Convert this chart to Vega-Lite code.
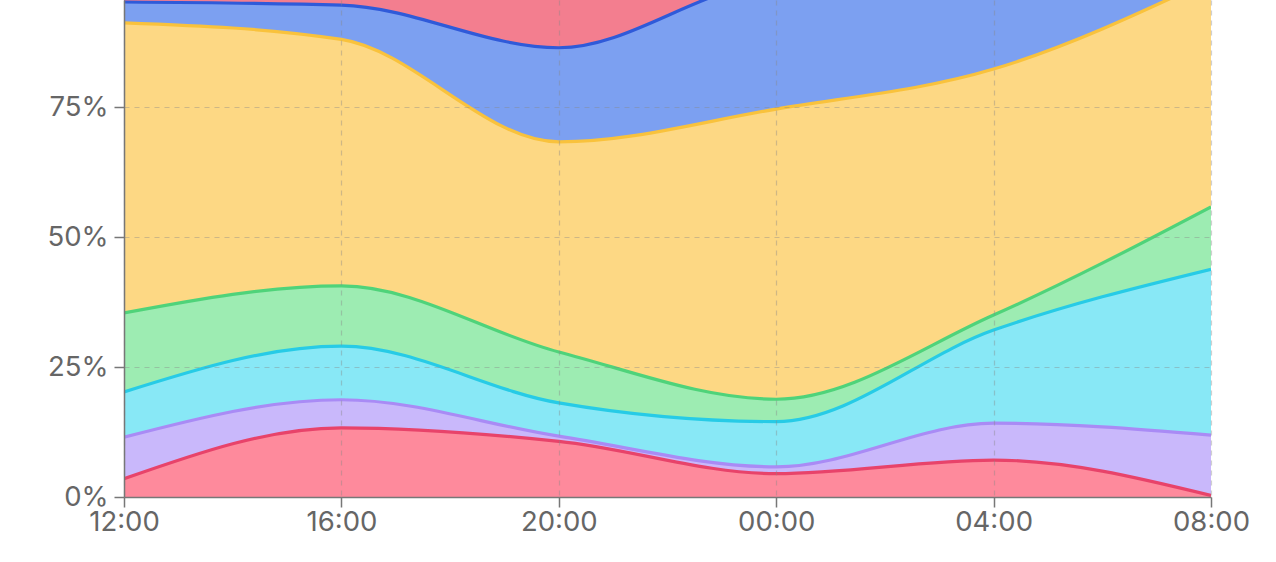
{
  "$schema": "https://vega.github.io/schema/vega-lite/v6.json",
  "width": 1087,
  "height": 497,
  "autosize": {"type": "none"},
  "padding": {"left": 124, "top": 0, "right": 65, "bottom": 65},
  "background": "white",
  "config": {
    "view": {"stroke": null},
    "font": "Inter",
    "axis": {
      "labelFont": "Inter",
      "labelFontSize": 27.5,
      "labelColor": "#666666",
      "tickColor": "#777777",
      "domainColor": "#777777",
      "domainWidth": 1.5,
      "tickWidth": 1.5,
      "gridColor": "#888888",
      "gridOpacity": 0.4,
      "gridDash": [5, 5],
      "gridWidth": 1.2
    }
  },
  "data": {
    "values": [
      {"t": "12:00", "s": "a", "v": 3.5},
      {"t": "16:00", "s": "a", "v": 13.3},
      {"t": "20:00", "s": "a", "v": 10.7},
      {"t": "00:00", "s": "a", "v": 4.5},
      {"t": "04:00", "s": "a", "v": 7.1},
      {"t": "08:00", "s": "a", "v": 0.3},
      {"t": "12:00", "s": "b", "v": 8.0},
      {"t": "16:00", "s": "b", "v": 5.4},
      {"t": "20:00", "s": "b", "v": 1.0},
      {"t": "00:00", "s": "b", "v": 1.3},
      {"t": "04:00", "s": "b", "v": 7.1},
      {"t": "08:00", "s": "b", "v": 11.6},
      {"t": "12:00", "s": "c", "v": 8.7},
      {"t": "16:00", "s": "c", "v": 10.3},
      {"t": "20:00", "s": "c", "v": 6.4},
      {"t": "00:00", "s": "c", "v": 8.7},
      {"t": "04:00", "s": "c", "v": 17.9},
      {"t": "08:00", "s": "c", "v": 31.9},
      {"t": "12:00", "s": "d", "v": 15.2},
      {"t": "16:00", "s": "d", "v": 11.6},
      {"t": "20:00", "s": "d", "v": 9.8},
      {"t": "00:00", "s": "d", "v": 4.3},
      {"t": "04:00", "s": "d", "v": 2.9},
      {"t": "08:00", "s": "d", "v": 12.0},
      {"t": "12:00", "s": "e", "v": 55.8},
      {"t": "16:00", "s": "e", "v": 47.4},
      {"t": "20:00", "s": "e", "v": 40.4},
      {"t": "00:00", "s": "e", "v": 55.8},
      {"t": "04:00", "s": "e", "v": 47.3},
      {"t": "08:00", "s": "e", "v": 43.7},
      {"t": "12:00", "s": "f", "v": 4.0},
      {"t": "16:00", "s": "f", "v": 6.6},
      {"t": "20:00", "s": "f", "v": 18.1},
      {"t": "00:00", "s": "f", "v": 24.4},
      {"t": "04:00", "s": "f", "v": 17.2},
      {"t": "08:00", "s": "f", "v": 0.3},
      {"t": "12:00", "s": "g", "v": 4.8},
      {"t": "16:00", "s": "g", "v": 5.4},
      {"t": "20:00", "s": "g", "v": 13.6},
      {"t": "00:00", "s": "g", "v": 1.0},
      {"t": "04:00", "s": "g", "v": 0.5},
      {"t": "08:00", "s": "g", "v": 0.2}
    ]
  },
  "encoding": {
    "x": {
      "field": "t",
      "type": "ordinal",
      "sort": ["12:00", "16:00", "20:00", "00:00", "04:00", "08:00"],
      "scale": {"type": "point", "padding": 0},
      "axis": {"title": null, "labelAngle": 0, "grid": true, "tickSize": 10, "labelPadding": 1, "zindex": 1}
    },
    "y": {
      "field": "v",
      "type": "quantitative",
      "stack": "normalize",
      "scale": {"domain": [0, 0.9558], "nice": false, "zero": true},
      "axis": {"title": null, "values": [0, 0.25, 0.5, 0.75], "format": ".0%", "tickSize": 10, "labelPadding": 6, "zindex": 1}
    },
    "order": {"field": "s", "type": "nominal"}
  },
  "layer": [
    {
      "mark": {"type": "area", "interpolate": "monotone", "clip": true},
      "encoding": {
        "fill": {
          "field": "s",
          "type": "nominal",
          "legend": null,
          "scale": {
            "domain": ["a", "b", "c", "d", "e", "f", "g"],
            "range": ["#fe8a9c", "#c9b8fb", "#88e8f6", "#9decb2", "#fdd884", "#7ca0f1", "#f37e8f"]
          }
        }
      }
    },
    {
      "mark": {"type": "line", "interpolate": "monotone", "clip": true, "strokeWidth": 3.2},
      "encoding": {
        "stroke": {
          "field": "s",
          "type": "nominal",
          "legend": null,
          "scale": {
            "domain": ["a", "b", "c", "d", "e", "f", "g"],
            "range": ["#e8436a", "#a98bf5", "#27cbe6", "#4fd37a", "#f9c23c", "#2f5ad9", "#e84a64"]
          }
        }
      }
    }
  ]
}
